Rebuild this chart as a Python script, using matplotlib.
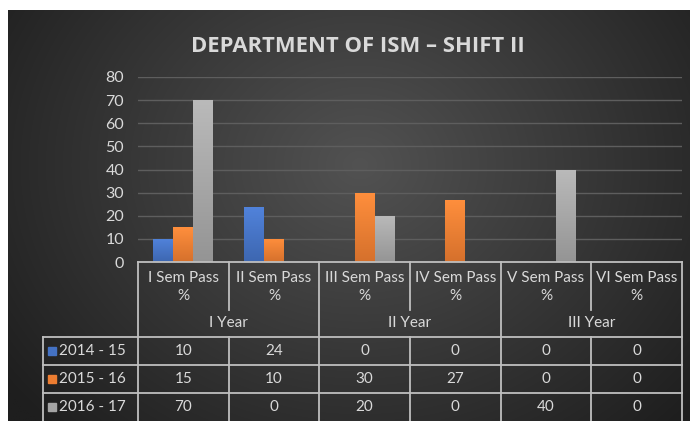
import numpy as np
import matplotlib.pyplot as plt
from matplotlib.transforms import blended_transform_factory
from matplotlib.colors import to_rgb

plt.rcParams['font.family'] = ['Lato', 'DejaVu Sans']

title = "DEPARTMENT OF ISM \u2013 SHIFT II"
semesters = ["I Sem Pass\n%", "II Sem Pass\n%", "III Sem Pass\n%",
             "IV Sem Pass\n%", "V Sem Pass\n%", "VI Sem Pass\n%"]
years = ["I Year", "II Year", "III Year"]
series_names = ["2014 - 15", "2015 - 16", "2016 - 17"]
vals_1415 = [10, 24, 0, 0, 0, 0]
vals_1516 = [15, 10, 30, 27, 0, 0]
vals_1617 = [70, 0, 20, 0, 40, 0]
colors = ["#4472C4", "#ED7D31", "#A5A5A5"]

W, H = 693, 421
TXT = "#d9d9d9"
LINE = "#bfbfbf"

def fy(p):
    return 1 - p / H

fig = plt.figure(figsize=(W / 100, H / 100), dpi=100, facecolor="white")

# dark radial background
bg = fig.add_axes([8 / W, 0, (690 - 8) / W, fy(10)], zorder=-10)
bg.axis("off")
yy, xx = np.mgrid[0:200, 0:340]
cx, cy = 175, 75
r = np.sqrt(((xx - cx) / 220.0) ** 2 + ((yy - cy) / 180.0) ** 2)
r = np.clip(r, 0, 1)
c_in = np.array(to_rgb("#525252"))
c_out = np.array(to_rgb("#1e1e1e"))
img = c_in[None, None, :] * (1 - r[..., None]) + c_out[None, None, :] * r[..., None]
bg.imshow(img, aspect="auto", extent=[0, 1, 0, 1], interpolation="bilinear")
bg.set_xlim(0, 1)
bg.set_ylim(0, 1)

fig.text(358 / W, fy(47), title, ha="center", va="center", color=TXT,
         fontsize=15.8, fontweight="bold", family=["Open Sans", "DejaVu Sans"])

# plot area
x0, x1 = 138, 682
ytop, ybot = 77, 262
ax = fig.add_axes([x0 / W, fy(ybot), (x1 - x0) / W, (ybot - ytop) / H])
ax.set_facecolor("none")
ax.set_xlim(-0.5, len(semesters) - 0.5)
ax.set_ylim(0, 80)
ax.set_yticks(range(0, 81, 10))
ax.set_xticks([])
for s in ax.spines.values():
    s.set_visible(False)
ax.tick_params(axis="y", length=0, colors=TXT, labelsize=11.5, pad=10)
ax.grid(axis="y", color="#5e5e5e", linewidth=1)
ax.set_axisbelow(True)

x = np.arange(len(semesters))
bw = 0.22
for k, (vals, col) in enumerate(zip([vals_1415, vals_1516, vals_1617], colors)):
    bars = ax.bar(x + (k - 1) * bw, vals, width=bw, color=col, zorder=3)
    base = np.array(to_rgb(col))
    grad = np.linspace(0, 1, 64)[:, None, None]
    top = np.clip(base * 1.08 + 0.03, 0, 1)
    bot = base * 0.9
    gimg = top[None, None, :] * (1 - grad) + bot[None, None, :] * grad
    for b in bars:
        if b.get_height() <= 0:
            continue
        bx, by = b.get_x(), b.get_y()
        im = ax.imshow(gimg, extent=[bx, bx + b.get_width(), by, by + b.get_height()],
                       aspect="auto", zorder=4, interpolation="bilinear")
        im.set_clip_path(b)
ax.set_xlim(-0.5, len(semesters) - 0.5)
ax.set_ylim(0, 80)

# data table
tr = blended_transform_factory(ax.transData, fig.transFigure)
lw = 1.3
y_head_top, y_sem_bot, y_year_bot = 262, 310, 337
row_y = [337, 365, 393, 421]

def vline(xv, pa, pb):
    fig.add_artist(plt.Line2D([xv, xv], [fy(pa), fy(pb)], transform=tr,
                              color=LINE, lw=lw))

fig.add_artist(plt.Line2D([-0.5, 5.5], [fy(y_head_top)] * 2, transform=tr,
                          color=LINE, lw=lw))
for p in row_y[:3]:
    fig.add_artist(plt.Line2D([43 / W, x1 / W], [fy(p), fy(p)],
                              transform=fig.transFigure, color=LINE, lw=lw))
vline(-0.5, y_head_top, H)
for b in [1.5, 3.5, 5.5]:
    vline(b, y_head_top, H)
for b in [0.5, 2.5, 4.5]:
    vline(b, y_head_top, y_sem_bot)
    vline(b, y_year_bot, H)
fig.add_artist(plt.Line2D([43 / W, 43 / W], [fy(337), fy(H)], transform=fig.transFigure,
                          color=LINE, lw=lw))

for i, s in enumerate(semesters):
    fig.text(i, fy(287), s, transform=tr, ha="center", va="center", color=TXT,
             fontsize=11, linespacing=1.45)
for j, yname in enumerate(years):
    fig.text(2 * j + 0.5, fy(323), yname, transform=tr, ha="center", va="center",
             color=TXT, fontsize=11)

for r_i, (name, vals, col) in enumerate(zip(series_names,
                                             [vals_1415, vals_1516, vals_1617], colors)):
    yc = (row_y[r_i] + row_y[r_i + 1]) / 2
    fig.patches.append(plt.Rectangle((48 / W, fy(yc + 4)), 8 / W, 8 / H,
                                     transform=fig.transFigure, color=col,
                                     figure=fig))
    fig.text(59 / W, fy(yc), name, ha="left", va="center", color=TXT, fontsize=11)
    for i, v in enumerate(vals):
        fig.text(i, fy(yc), str(v), transform=tr, ha="center", va="center",
                 color=TXT, fontsize=11)

fig.savefig("out.png", dpi=100, facecolor=fig.get_facecolor())
